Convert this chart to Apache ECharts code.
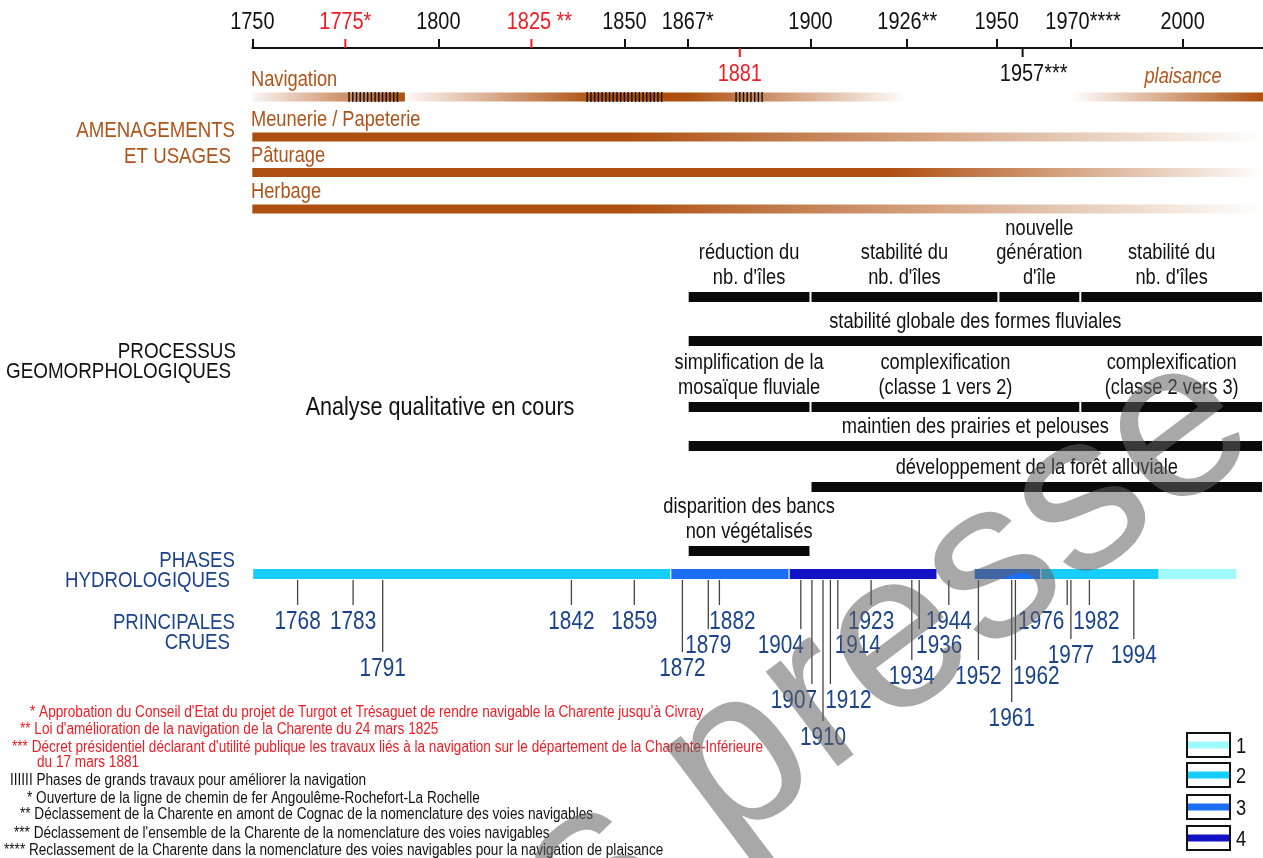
<!DOCTYPE html>
<html>
<head>
<meta charset="utf-8">
<title>Charente - frise chronologique</title>
<script src="https://cdn.jsdelivr.net/npm/echarts@6.0.0/dist/echarts.min.js"></script>
<style>
  html, body { margin: 0; padding: 0; background: #fff; }
  #chart { width: 1263px; height: 858px; }
</style>
</head>
<body>
<div id="chart"></div>
<script>
// ---------- données ----------
var axisYears  = [1750, 1775, 1800, 1825, 1850, 1867, 1900, 1926, 1950, 1970, 2000];
var axisLabels = ['1750', '1775*', '1800', '1825 **', '1850', '1867*', '1900', '1926**', '1950', '1970****', '2000'];
var axisRedYears = [1775, 1825];
var markYears  = [1881, 1957];
var markLabels = ['1881', '1957***'];
var markRed    = [true, false];

var usageNames = ['Navigation', 'Meunerie / Papeterie', 'Pâturage', 'Herbage'];
// [année, opacité] le long de chaque barre
var navigationEarly   = [[1750, 0.05], [1791, 1]];
var navigationMain    = [[1792, 0.05], [1842, 1], [1867, 1], [1926, 0]];
var navigationLeisure = [[1970, 0], [2021.6, 1]];
var meunerieStops = [[1750, 1], [1850, 1], [2021.6, 0]];
var paturageStops = [[1750, 1], [1921, 1], [2021.6, 0]];
var herbageStops  = [[1750, 1], [1850, 1], [2021.6, 0]];
var usageBarRow   = [0, 0, 0, 1, 2, 3];
var usageBarStops = [navigationEarly, navigationMain, navigationLeisure, meunerieStops, paturageStops, herbageStops];
var worksPeriods  = [[1776, 1789], [1840, 1860], [1880, 1887]];

var islandBars = [[1867, 1900, "réduction du\nnb. d'îles"], [1900, 1950.5, "stabilité du\nnb. d'îles"],
                  [1950.5, 1972.5, "nouvelle\ngénération\nd'île"], [1972.5, 2021.6, "stabilité du\nnb. d'îles"]];
var formBars   = [[1867, 2021.6, 'stabilité globale des formes fluviales']];
var mosaicBars = [[1867, 1900, 'simplification de la\nmosaïque fluviale'], [1900, 1972.5, 'complexification\n(classe 1 vers 2)'],
                  [1972.5, 2021.6, 'complexification\n(classe 2 vers 3)']];
var meadowBars = [[1867, 2021.6, 'maintien des prairies et pelouses']];
var forestBars = [[1900, 2021.6, 'développement de la forêt alluviale']];
var bankBars   = [[1867, 1900, 'disparition des bancs\nnon végétalisés']];

var phaseStart = [1756, 1869, 1901, 1951, 1969, 2001];
var phaseEnd   = [1869, 1901, 1941, 1969, 2001, 2022];
var phaseClass = [2, 3, 4, 3, 2, 1];
var legendClasses = [1, 2, 3, 4];
var crueYears = [1768, 1783, 1791, 1842, 1859, 1872, 1879, 1882, 1904, 1907, 1910, 1912,
                 1914, 1923, 1934, 1936, 1944, 1952, 1961, 1962, 1976, 1977, 1982, 1994];

var notesRed = [
  "* Approbation du Conseil d'Etat du projet de Turgot et Trésaguet de rendre navigable la Charente jusqu'à Civray",
  "** Loi d'amélioration de la navigation de la Charente du 24 mars 1825",
  "*** Décret présidentiel déclarant d'utilité publique les travaux liés à la navigation sur le département de la Charente-Inférieure",
  "du 17 mars 1881"
];
var notesBlack = [
  "IIIIII Phases de grands travaux pour améliorer la navigation",
  "* Ouverture de la ligne de chemin de fer Angoulême-Rochefort-La Rochelle",
  "** Déclassement de la Charente en amont de Cognac de la nomenclature des voies navigables",
  "*** Déclassement de l'ensemble de la Charente de la nomenclature des voies navigables",
  "**** Reclassement de la Charente dans la nomenclature des voies navigables pour la navigation de plaisance"
];

// ---------- mise en page / styles ----------
var FONT = "'Liberation Sans', Arial, sans-serif";
var SX = 0.83; // police étroite (type Arial Narrow) simulée par compression horizontale
var BROWN = [174, 79, 15];
var BROWN_TEXT = '#b0531a';
var RED = '#ee1c24';
var BLUE_TEXT = '#1a438c';
var HYDRO_COLORS = { 1: '#9ffbfb', 2: '#16cdfb', 3: '#1a6ff6', 4: '#1212c6' };

var layout = {
  axisY: 48,
  labelY: 22,
  labelDx: { 1825: 8, 1970: 12 },
  markDx: { 1957: 11 },
  usageY: [97, 137, 172.5, 209],
  usageH: 9,
  geoY: { islands: 297, forms: 341, mosaic: 407, meadow: 446, forest: 487, banks: 551 },
  geoH: 10,
  phaseY: 574, phaseH: 10,
  crueTop: 580,
  crueEnd: { 1768: 605, 1783: 605, 1791: 652, 1842: 605, 1859: 605, 1872: 652, 1879: 629, 1882: 605,
             1904: 629, 1907: 684, 1910: 721, 1912: 684, 1914: 629, 1923: 605, 1934: 660, 1936: 629,
             1944: 605, 1952: 660, 1961: 702, 1962: 660, 1976: 605, 1977: 639, 1982: 605, 1994: 639 },
  crueDx: { 1882: 13, 1904: -20, 1907: -18, 1912: 18, 1914: 20, 1936: 20, 1962: 21, 1976: -26, 1982: 7 },
  noteX: [30, 20, 12, 37, 10, 27, 20, 14, 4],
  noteY: [713, 730, 748, 763, 781, 799, 815, 834, 851],
  legendTop: [733, 763, 795, 826]
};

function brown(a) {
  return 'rgba(' + BROWN[0] + ',' + BROWN[1] + ',' + BROWN[2] + ',' + a + ')';
}

// texte "étroit" (pour graphic et custom)
function narrowText(x, y, text, size, fill, align, extra, sx) {
  var st = { text: text, font: size + 'px ' + FONT, fill: fill,
             textAlign: align || 'left', textVerticalAlign: 'middle' };
  if (extra) { for (var k in extra) st[k] = extra[k]; }
  return { type: 'text', x: x, y: y, scaleX: sx || SX, z: 10, style: st };
}

var geoBars = [];
[['islands', islandBars], ['forms', formBars], ['mosaic', mosaicBars],
 ['meadow', meadowBars], ['forest', forestBars], ['banks', bankBars]].forEach(function (g) {
  g[1].forEach(function (b) { geoBars.push([b[0], b[1], g[0], b[2]]); });
});

var chart = echarts.init(document.getElementById('chart'));

var graphics = [];
// libellés de gauche
graphics.push(narrowText(235, 131, 'AMENAGEMENTS', 22.5, BROWN_TEXT, 'right'));
graphics.push(narrowText(231, 157, 'ET USAGES', 22.5, BROWN_TEXT, 'right'));
graphics.push(narrowText(236, 352, 'PROCESSUS', 22.7, '#111', 'right'));
graphics.push(narrowText(231, 372, 'GEOMORPHOLOGIQUES', 22.7, '#111', 'right'));
graphics.push(narrowText(235, 561, 'PHASES', 22.5, BLUE_TEXT, 'right'));
graphics.push(narrowText(230, 581, 'HYDROLOGIQUES', 22.5, BLUE_TEXT, 'right'));
graphics.push(narrowText(235, 623, 'PRINCIPALES', 22.5, BLUE_TEXT, 'right'));
graphics.push(narrowText(230, 643, 'CRUES', 22.5, BLUE_TEXT, 'right'));
graphics.push(narrowText(440, 408, 'Analyse qualitative en cours', 26, '#111', 'center'));

// noms des usages
usageNames.forEach(function (name, i) {
  graphics.push(narrowText(251, layout.usageY[i] - 17, name, 22, BROWN_TEXT, 'left'));
});
graphics.push(narrowText(1183, 77, 'plaisance', 22, BROWN_TEXT, 'center', { font: 'italic 22px ' + FONT }));

// notes
notesRed.forEach(function (t, i) {
  graphics.push(narrowText(layout.noteX[i], layout.noteY[i], t, 16, RED, 'left', null, 0.85));
});
notesBlack.forEach(function (t, i) {
  graphics.push(narrowText(layout.noteX[i + 4], layout.noteY[i + 4], t, 16, '#111', 'left', null, 0.85));
});

// légende des phases hydrologiques
legendClasses.forEach(function (c, i) {
  var top = layout.legendTop[i];
  graphics.push({ type: 'rect', z: 10, shape: { x: 1187, y: top, width: 43, height: 24 },
                  style: { fill: '#fff', stroke: '#111', lineWidth: 2 } });
  graphics.push({ type: 'rect', z: 11, shape: { x: 1188, y: top + 8.5, width: 41, height: 7 },
                  style: { fill: HYDRO_COLORS[c] } });
  graphics.push(narrowText(1236, top + 14, String(c), 22, '#111', 'left'));
});

// filigrane
graphics.push({
  type: 'text', x: 1295, y: 485, z: 100, rotation: 37 * Math.PI / 180,
  style: { text: 'Sous presse', font: '225px ' + FONT,
           fill: 'rgba(96,96,96,0.55)', textAlign: 'right', textVerticalAlign: 'bottom' }
});

var option = {
  animation: false,
  backgroundColor: '#fff',
  grid: [
    { left: 252.3, right: 0, top: layout.axisY, bottom: 0 },
    { left: 231, right: 1263 - 231 - (2023 - 1750) * 3.70, top: layout.axisY, bottom: 0 }
  ],
  xAxis: [
    {
      gridIndex: 0, type: 'value', position: 'top', min: 1750, max: 2021.6,
      axisLine: { show: true, onZero: false, lineStyle: { color: '#111', width: 2 } },
      axisTick: {
        show: true, length: 9, lineStyle: { color: '#111', width: 2 },
        customValues: axisYears.filter(function (y) { return axisRedYears.indexOf(y) < 0; })
      },
      axisLabel: { show: false },
      splitLine: { show: false }
    },
    { gridIndex: 1, type: 'value', min: 1750, max: 2023, show: false, splitLine: { show: false } }
  ],
  yAxis: [
    { gridIndex: 0, type: 'value', min: 48, max: 858, inverse: true, show: false, splitLine: { show: false } },
    { gridIndex: 1, type: 'value', min: 48, max: 858, inverse: true, show: false, splitLine: { show: false } }
  ],
  graphic: graphics,
  series: [
    // libellés de l'axe (+ graduations rouges)
    {
      type: 'custom', xAxisIndex: 0, yAxisIndex: 0, z: 5,
      data: axisYears.map(function (y) { return [y, layout.axisY]; }),
      renderItem: function (p, api) {
        var yr = api.value(0);
        var x = api.coord([yr, layout.axisY])[0];
        var red = axisRedYears.indexOf(yr) >= 0;
        var kids = [narrowText(x + (layout.labelDx[yr] || 0), layout.labelY, axisLabels[p.dataIndex], 24,
                               red ? RED : '#111', 'center')];
        if (red) {
          kids.push({ type: 'line', shape: { x1: x, y1: layout.axisY - 9, x2: x, y2: layout.axisY },
                      style: { stroke: RED, lineWidth: 2 } });
        }
        return { type: 'group', children: kids };
      }
    },
    // dates sous l'axe (1881, 1957)
    {
      type: 'custom', xAxisIndex: 0, yAxisIndex: 0, z: 5,
      data: markYears.map(function (y) { return [y, layout.axisY]; }),
      renderItem: function (p, api) {
        var yr = api.value(0);
        var x = api.coord([yr, layout.axisY])[0];
        var col = markRed[p.dataIndex] ? RED : '#111';
        return { type: 'group', children: [
          { type: 'line', shape: { x1: x, y1: layout.axisY, x2: x, y2: layout.axisY + 9 },
            style: { stroke: col, lineWidth: 2 } },
          narrowText(x + (layout.markDx[yr] || 0), layout.axisY + 26, markLabels[p.dataIndex], 24, col, 'center')
        ] };
      }
    },
    // barres des usages (dégradés)
    {
      type: 'custom', xAxisIndex: 0, yAxisIndex: 0, z: 3,
      data: usageBarStops.map(function (s, i) { return [s[0][0], layout.usageY[usageBarRow[i]]]; }),
      renderItem: function (p, api) {
        var stops = usageBarStops[p.dataIndex];
        var y = layout.usageY[usageBarRow[p.dataIndex]];
        var a = stops[0][0], b = stops[stops.length - 1][0];
        var p0 = api.coord([a, y]), p1 = api.coord([b, y]);
        var cs = stops.map(function (s) { return { offset: (s[0] - a) / (b - a), color: brown(s[1]) }; });
        return { type: 'rect',
                 shape: { x: p0[0], y: p0[1] - layout.usageH / 2, width: p1[0] - p0[0], height: layout.usageH },
                 style: { fill: new echarts.graphic.LinearGradient(0, 0, 1, 0, cs) } };
      }
    },
    // hachures : phases de grands travaux
    {
      type: 'custom', xAxisIndex: 0, yAxisIndex: 0, z: 4,
      data: worksPeriods.map(function (w) { return [w[0], w[1]]; }),
      renderItem: function (p, api) {
        var w = worksPeriods[p.dataIndex];
        var y = layout.usageY[0];
        var kids = [];
        for (var yr = w[0]; yr <= w[1]; yr++) {
          var x = api.coord([yr, y])[0];
          kids.push({ type: 'line', shape: { x1: x, y1: y - 5, x2: x, y2: y + 5 },
                      style: { stroke: '#111', lineWidth: 1.4 } });
        }
        return { type: 'group', children: kids };
      }
    },
    // processus géomorphologiques
    {
      type: 'custom', xAxisIndex: 0, yAxisIndex: 0, z: 3,
      data: geoBars.map(function (g) { return [g[0], g[1]]; }),
      renderItem: function (p, api) {
        var g = geoBars[p.dataIndex];
        var y = layout.geoY[g[2]];
        var x0 = api.coord([g[0], y])[0] + 1, x1 = api.coord([g[1], y])[0] - 1;
        var label = narrowText((x0 + x1) / 2, y - 7, g[3], 22, '#111', 'center',
                               { lineHeight: 24.5, textVerticalAlign: 'bottom' });
        return { type: 'group', children: [
          { type: 'rect', shape: { x: x0, y: y - layout.geoH / 2, width: x1 - x0, height: layout.geoH },
            style: { fill: '#0a0a0a' } },
          label
        ] };
      }
    },
    // phases hydrologiques
    {
      type: 'custom', xAxisIndex: 1, yAxisIndex: 1, z: 3,
      data: phaseStart.map(function (s, i) { return [s, phaseEnd[i]]; }),
      renderItem: function (p, api) {
        var y = layout.phaseY;
        var x0 = api.coord([api.value(0), y])[0], x1 = api.coord([api.value(1), y])[0];
        return { type: 'rect', shape: { x: x0, y: y - layout.phaseH / 2, width: x1 - x0 - 1.2, height: layout.phaseH },
                 style: { fill: HYDRO_COLORS[phaseClass[p.dataIndex]] } };
      }
    },
    // principales crues
    {
      type: 'custom', xAxisIndex: 1, yAxisIndex: 1, z: 3,
      data: crueYears.map(function (c) { return [c, layout.crueTop]; }),
      renderItem: function (p, api) {
        var yr = api.value(0);
        var x = api.coord([yr, layout.crueTop])[0];
        var end = layout.crueEnd[yr];
        return { type: 'group', children: [
          { type: 'line', shape: { x1: x, y1: layout.crueTop, x2: x, y2: end },
            style: { stroke: '#444', lineWidth: 1.3 } },
          narrowText(x + (layout.crueDx[yr] || 0), end + 17, String(yr), 25, BLUE_TEXT, 'center')
        ] };
      }
    }
  ]
};

chart.setOption(option);
</script>
</body>
</html>
